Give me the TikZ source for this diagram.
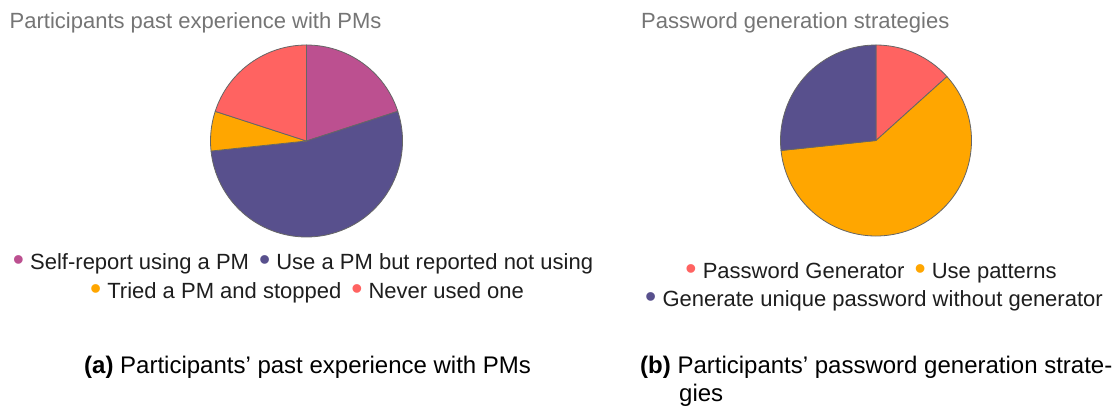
\documentclass[tikz,border=0pt]{standalone}
\usepackage{fontspec}
\usepackage{graphicx}
\setmainfont{Liberation Sans}
\definecolor{cmag}{HTML}{BC5090}
\definecolor{cpur}{HTML}{58508D}
\definecolor{cora}{HTML}{FFA600}
\definecolor{cred}{HTML}{FF6361}
\definecolor{ctitle}{HTML}{757575}
\definecolor{ctext}{HTML}{1E1E1E}
\definecolor{cedge}{HTML}{666666}
\tikzset{
  slice/.style={draw=cedge, line width=0.8pt, line join=round},
  charttitle/.style={anchor=base west, inner sep=0pt, text=ctitle, font=\fontsize{22}{26}\selectfont},
  legendline/.style={anchor=base, inner sep=0pt, text=ctext, font=\fontsize{22}{26}\selectfont},
  captext/.style={anchor=base west, inner sep=0pt, text=black, font=\fontsize{24}{28}\selectfont},
}
\newcommand{\dotc}[1]{\textcolor{#1}{\raisebox{-0.09em}{\scalebox{1.45}{•}}}}
\begin{document}
\begin{tikzpicture}[x=1pt,y=-1pt]
\useasboundingbox (0,0) rectangle (1115,410);
\fill[white] (0,0) rectangle (1115,410);

% titles
\node[charttitle] (t1) at (9.5,28) {Participants past experience with PMs};
\node[charttitle] (t2) at (641,28) {Password generation strategies};

% pie 1
\begin{scope}[shift={(306.5,141)}, yscale=-1]
  \def\r{96}
  \filldraw[slice, fill=cmag] (0,0) -- (90:\r) arc[start angle=90, end angle=18, radius=\r] -- cycle;
  \filldraw[slice, fill=cpur] (0,0) -- (18:\r) arc[start angle=18, end angle=-174, radius=\r] -- cycle;
  \filldraw[slice, fill=cora] (0,0) -- (186:\r) arc[start angle=186, end angle=162, radius=\r] -- cycle;
  \filldraw[slice, fill=cred] (0,0) -- (162:\r) arc[start angle=162, end angle=90, radius=\r] -- cycle;
\end{scope}

% pie 2
\begin{scope}[shift={(876,140.5)}, yscale=-1]
  \def\r{95.5}
  \filldraw[slice, fill=cred] (0,0) -- (90:\r) arc[start angle=90, end angle=42, radius=\r] -- cycle;
  \filldraw[slice, fill=cora] (0,0) -- (42:\r) arc[start angle=42, end angle=-174, radius=\r] -- cycle;
  \filldraw[slice, fill=cpur] (0,0) -- (186:\r) arc[start angle=186, end angle=90, radius=\r] -- cycle;
\end{scope}

% legends
\node[legendline] (l1a) at (303,269) {\dotc{cmag} Self-report using a PM\hspace{10pt}\dotc{cpur} Use a PM but reported not using};
\node[legendline] (l1b) at (307,298) {\dotc{cora} Tried a PM and stopped\hspace{10pt}\dotc{cred} Never used one};
\node[legendline] (l2a) at (871,278) {\dotc{cred} Password Generator\hspace{10pt}\dotc{cora} Use patterns};
\node[legendline] (l2b) at (874,306) {\dotc{cpur} Generate unique password without generator};

% captions
\node[captext] (ca) at (84,373) {\textbf{(a)} Participants’ past experience with PMs};
\node[captext] (cb1) at (640,373) {\textbf{(b)} Participants’ password generation strate-};
\node[captext] (cb2) at (679,401) {gies};
\end{tikzpicture}
\end{document}
